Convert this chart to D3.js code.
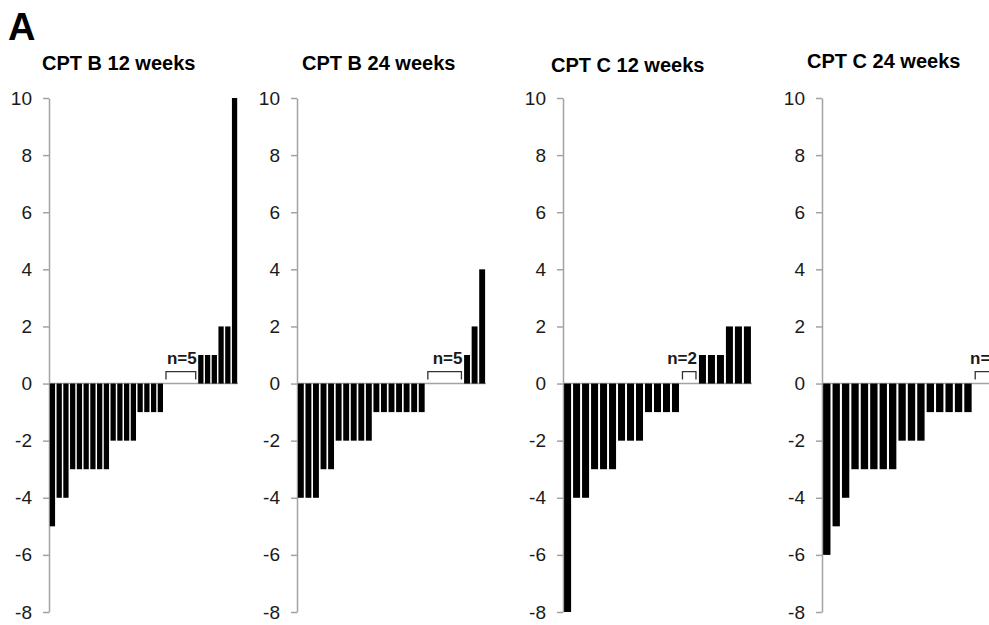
<!DOCTYPE html>
<html>
<head>
<meta charset="utf-8">
<script src="https://cdn.jsdelivr.net/npm/d3@7"></script>
<style>
  body { margin: 0; background: #fff; }
  svg { display: block; font-family: "Liberation Sans", Arial, sans-serif; }
</style>
</head>
<body>
<div id="chart"></div>
<script>
// change scores per patient, sorted; zeros drawn as the bracketed "n=" group
const panelTitles = ["CPT B 12 weeks", "CPT B 24 weeks", "CPT C 12 weeks", "CPT C 24 weeks"];
const cptB12 = [-5, -4, -4, -3, -3, -3, -3, -3, -3, -2, -2, -2, -2, -1, -1, -1, -1, 0, 0, 0, 0, 0, 1, 1, 1, 2, 2, 10];
const cptB24 = [-4, -4, -4, -3, -3, -2, -2, -2, -2, -2, -1, -1, -1, -1, -1, -1, -1, 0, 0, 0, 0, 0, 1, 2, 4];
const cptC12 = [-8, -4, -4, -3, -3, -3, -2, -2, -2, -1, -1, -1, -1, 0, 0, 1, 1, 1, 2, 2, 2];
// right part of this panel is cropped off in the figure
const cptC24 = [-6, -5, -4, -3, -3, -3, -3, -3, -2, -2, -2, -1, -1, -1, -1, -1, 0, 0, 0];
const yTicks = [-8, -6, -4, -2, 0, 2, 4, 6, 8, 10];

const panelData = [cptB12, cptB24, cptC12, cptC24];

// layout of each small chart: axis x, right edge, title placement
const axisX = [49, 297, 563, 822];
const rightX = [238, 486, 752, 1001];
const titleX = [42, 302, 551, 807];
const titleY = [70, 70, 72, 68];

const width = 989, height = 625;

const svg = d3.select("#chart").append("svg")
    .attr("width", width)
    .attr("height", height);

svg.append("text")
    .attr("x", 8)
    .attr("y", 40)
    .style("font-size", "38px")
    .style("font-weight", "bold")
    .text("A");

const y = d3.scaleLinear().domain([-8, 10]).range([612, 98]);

panelData.forEach((values, i) => {
    const g = svg.append("g");

    const x = d3.scaleBand()
        .domain(d3.range(values.length))
        .range([axisX[i], rightX[i]])
        .paddingInner(0.22)
        .paddingOuter(0.12);

    g.append("text")
        .attr("x", titleX[i])
        .attr("y", titleY[i])
        .style("font-size", "20px")
        .style("font-weight", "bold")
        .text(panelTitles[i]);

    // zero line
    g.append("line")
        .attr("x1", axisX[i])
        .attr("x2", rightX[i])
        .attr("y1", y(0))
        .attr("y2", y(0))
        .attr("stroke", "#a3a3a3")
        .attr("stroke-width", 1.5);

    const axis = g.append("g")
        .attr("transform", `translate(${axisX[i]},0)`)
        .call(d3.axisLeft(y)
            .tickValues(yTicks)
            .tickFormat(d => String(d))
            .tickSize(6)
            .tickSizeOuter(0)
            .tickPadding(11));
    axis.select(".domain").attr("stroke", "#a3a3a3").attr("stroke-width", 1.5);
    axis.selectAll(".tick line").attr("stroke", "#a3a3a3").attr("stroke-width", 1.5);
    axis.selectAll(".tick text")
        .style("font-size", "19px")
        .style("font-family", "'Liberation Sans', Arial, sans-serif")
        .attr("fill", "#1a1a1a");

    g.selectAll("rect.bar")
        .data(values.map((v, k) => ({ v, k })).filter(d => d.v !== 0))
        .join("rect")
        .attr("class", "bar")
        .attr("x", d => x(d.k))
        .attr("width", x.bandwidth())
        .attr("y", d => y(Math.max(0, d.v)))
        .attr("height", d => Math.abs(y(d.v) - y(0)))
        .attr("fill", "#000");

    // bracket over the unchanged patients
    const zeroIdx = values.map((v, k) => v === 0 ? k : -1).filter(k => k >= 0);
    if (zeroIdx.length) {
        const x0 = x(zeroIdx[0]) + 1.5;
        const x1 = x(zeroIdx[zeroIdx.length - 1]) + x.bandwidth() - 1;
        const y0 = y(0);
        g.append("path")
            .attr("d", `M${x0},${y0 - 4}V${y0 - 12}H${x1}V${y0 - 4}`)
            .attr("fill", "none")
            .attr("stroke", "#333")
            .attr("stroke-width", 1.3);
        g.append("text")
            .attr("x", x1 + 1)
            .attr("y", y0 - 20)
            .attr("text-anchor", "end")
            .style("font-size", "17px")
            .style("font-weight", "bold")
            .attr("fill", "#1a1a1a")
            .text("n=" + zeroIdx.length);
    }
});
</script>
</body>
</html>
